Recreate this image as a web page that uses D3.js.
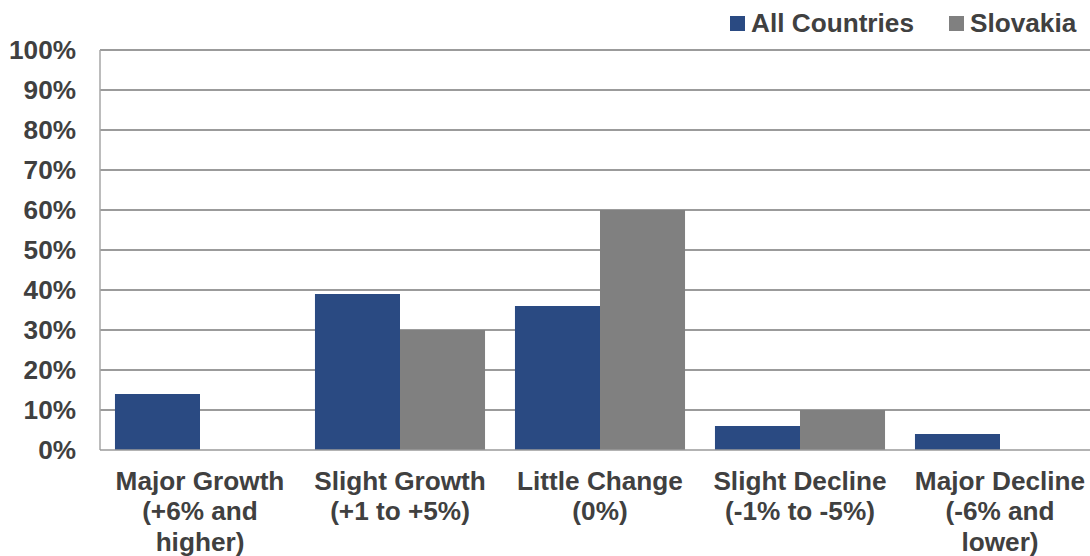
<!DOCTYPE html>
<html>
<head>
<meta charset="utf-8">
<script src="https://cdn.jsdelivr.net/npm/d3@7"></script>
<style>
  html, body { margin: 0; padding: 0; background: #fff; overflow: hidden; }
  svg { display: block; font-family: "Liberation Sans", Arial, sans-serif; }
</style>
</head>
<body>
<svg id="chart" width="1090" height="556"></svg>
<script>
// Survey responses: expected change, share of respondents
const categories = [
  ["Major Growth", "(+6% and", "higher)"],
  ["Slight Growth", "(+1 to +5%)"],
  ["Little Change", "(0%)"],
  ["Slight Decline", "(-1% to -5%)"],
  ["Major Decline", "(-6% and", "lower)"]
];
const seriesNames = ["All Countries", "Slovakia"];
const allCountries = [14, 39, 36, 6, 4];
const slovakia = [0, 30, 60, 10, 0];
const yTicks = [0, 10, 20, 30, 40, 50, 60, 70, 80, 90, 100];
const colors = ["#2a4a82", "#808080"];

const svg = d3.select("#chart");
const margin = { left: 100, right: 1100, top: 50, bottom: 450 };
const textColor = "#404040";
const fontSize = 26.2;

const catKeys = categories.map(c => c.join(" "));
const x0 = d3.scaleBand().domain(catKeys).range([margin.left, margin.right]).padding(0);
const x1 = d3.scaleBand().domain(seriesNames).range([0, x0.bandwidth()]).paddingInner(0).paddingOuter(0.176);
const y = d3.scaleLinear().domain([0, 100]).range([margin.bottom, margin.top]);

// Horizontal gridlines
svg.append("g")
  .selectAll("line")
  .data(yTicks.filter(t => t > 0))
  .join("line")
  .attr("x1", margin.left).attr("x2", margin.right)
  .attr("y1", d => y(d)).attr("y2", d => y(d))
  .attr("stroke", "#7a7a7a").attr("stroke-width", 1.5);

// Y axis labels
const yAxis = d3.axisLeft(y).tickValues(yTicks).tickFormat(d => d + "%").tickSize(0).tickPadding(24);
const yg = svg.append("g").attr("transform", `translate(${margin.left},0)`).call(yAxis);
yg.select(".domain").remove();
yg.selectAll("text")
  .attr("fill", textColor)
  .attr("font-size", fontSize)
  .attr("font-weight", "bold")
  .attr("font-family", "'Liberation Sans', Arial, sans-serif");

// Bars
const rows = categories.map((c, i) => ({ key: catKeys[i], values: [allCountries[i], slovakia[i]] }));
const groups = svg.append("g").selectAll("g")
  .data(rows)
  .join("g")
  .attr("transform", d => `translate(${x0(d.key)},0)`);
groups.selectAll("rect")
  .data(d => d.values.map((v, j) => ({ name: seriesNames[j], value: v, j })))
  .join("rect")
  .attr("x", d => x1(d.name))
  .attr("width", x1.bandwidth())
  .attr("y", d => y(d.value))
  .attr("height", d => y(0) - y(d.value))
  .attr("fill", d => colors[d.j]);

// Left axis line and baseline
svg.append("line")
  .attr("x1", margin.left).attr("x2", margin.left)
  .attr("y1", margin.top).attr("y2", margin.bottom)
  .attr("stroke", "#a6a6a6").attr("stroke-width", 1.5);
svg.append("line")
  .attr("x1", margin.left).attr("x2", margin.right)
  .attr("y1", y(0)).attr("y2", y(0))
  .attr("stroke", "#9a9a9a").attr("stroke-width", 1.5);

// Category labels (multi-line)
const lab = svg.append("g").selectAll("text")
  .data(categories)
  .join("text")
  .attr("x", (d, i) => x0(catKeys[i]) + x0.bandwidth() / 2)
  .attr("y", 490)
  .attr("text-anchor", "middle")
  .attr("fill", textColor)
  .attr("font-size", fontSize)
  .attr("font-weight", "bold");
lab.selectAll("tspan")
  .data(d => d)
  .join("tspan")
  .attr("x", function () { return this.parentNode.getAttribute("x"); })
  .attr("dy", (d, i) => i === 0 ? 0 : 30.4)
  .text(d => d);

// Legend
const legendX = [730, 949];
const leg = svg.append("g").selectAll("g")
  .data(seriesNames)
  .join("g")
  .attr("transform", (d, i) => `translate(${legendX[i]},16)`);
leg.append("rect").attr("width", 15).attr("height", 15).attr("fill", (d, i) => colors[i]);
leg.append("text")
  .attr("x", 21).attr("y", 16)
  .attr("fill", textColor)
  .attr("font-size", fontSize)
  .attr("font-weight", "bold")
  .text(d => d);
</script>
</body>
</html>
